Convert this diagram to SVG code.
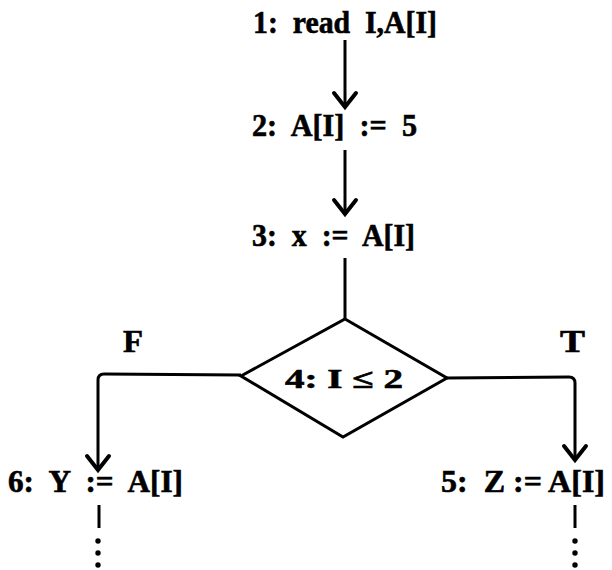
<svg xmlns="http://www.w3.org/2000/svg" width="612" height="570" viewBox="0 0 612 570">
<style>
  text { font-family: "Liberation Serif", "Times New Roman", serif; font-weight: bold; fill: #000; stroke: #000; stroke-width: 0.6; }
  .lbl { font-size: 31px; }
  .small { font-size: 27px; }
  .edge { fill: none; stroke: #000; stroke-width: 3; stroke-linejoin: round; }
  .shape { fill: #fff; stroke: #000; stroke-width: 3; stroke-linejoin: miter; }
  .dot { fill: #000; }
</style>
<defs>
  <marker id="arrow" markerUnits="userSpaceOnUse" markerWidth="30" markerHeight="30" refX="0" refY="0" orient="auto" overflow="visible">
    <path d="M-14,-11 L0,0 L-14,11" fill="none" stroke="#000" stroke-width="4" stroke-linecap="round" stroke-linejoin="miter"/>
  </marker>
</defs>
<rect width="612" height="570" fill="#fff"/>
<g id="connectors">
  <path class="edge" d="M345,40 L345,107" marker-end="url(#arrow)"/>
  <path class="edge" d="M345,150 L345,214" marker-end="url(#arrow)"/>
  <path class="edge" d="M345,258 L345,319"/>
  <path class="edge" d="M241,375 L104,374 Q98,374 98,380 L98,470" marker-end="url(#arrow)"/>
  <path class="edge" d="M447,378 L569,377 Q575,377 575,383 L575,460" marker-end="url(#arrow)"/>
  <path class="edge" d="M99,505 L99,528"/>
  <circle class="dot" cx="98" cy="541" r="2.7"/>
  <circle class="dot" cx="98" cy="553" r="2.7"/>
  <circle class="dot" cx="98" cy="565" r="2.7"/>
  <path class="edge" d="M575,505 L575,528"/>
  <circle class="dot" cx="575" cy="541" r="2.7"/>
  <circle class="dot" cx="575" cy="553" r="2.7"/>
  <circle class="dot" cx="575" cy="565" r="2.7"/>
  <text class="lbl" x="123" y="352" textLength="20" lengthAdjust="spacingAndGlyphs">F</text>
  <text class="lbl" x="560" y="352" textLength="25" lengthAdjust="spacingAndGlyphs">T</text>
</g>
<g id="n1">
  <text class="lbl" x="253" y="33" textLength="184" lengthAdjust="spacingAndGlyphs" xml:space="preserve">1:  read  I,A[I]</text>
</g>
<g id="n2">
  <text class="lbl" x="252" y="136" textLength="165" lengthAdjust="spacingAndGlyphs" xml:space="preserve">2:  A[I]  :=  5</text>
</g>
<g id="n3">
  <text class="lbl" x="252" y="246" textLength="163" lengthAdjust="spacingAndGlyphs" xml:space="preserve">3:  x  :=  A[I]</text>
</g>
<g id="n4">
  <polygon class="shape" points="345,319 447,378 343,437 241,376"/>
  <text class="small" x="285" y="388" textLength="118" lengthAdjust="spacingAndGlyphs" xml:space="preserve">4: I ≤ 2</text>
</g>
<g id="n5">
  <text class="lbl" x="441" y="492" textLength="164" lengthAdjust="spacingAndGlyphs" xml:space="preserve">5:  Z := A[I]</text>
</g>
<g id="n6">
  <text class="lbl" x="8" y="492" textLength="175" lengthAdjust="spacingAndGlyphs" xml:space="preserve">6:  Y  :=  A[I]</text>
</g>
</svg>
